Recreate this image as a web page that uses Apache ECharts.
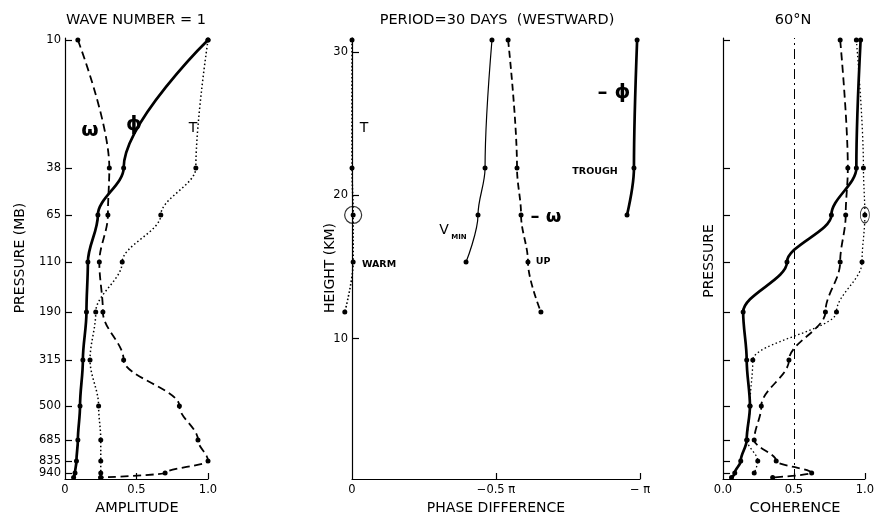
<!DOCTYPE html>
<html>
<head>
<meta charset="utf-8">
<script src="https://cdn.jsdelivr.net/npm/echarts@6/dist/echarts.min.js"></script>
<style>
html,body{margin:0;padding:0;background:#fff;}
#chart{width:877px;height:520px;}
</style>
</head>
<body>
<div id="chart"></div>
<script>
// ---------- DATA ----------
// Pressure levels (mb) and their heights (km)
const pressureLevels = [10, 38, 65, 110, 190, 315, 500, 685, 835, 940, 1000];
const levelHeightKm  = [30.86, 21.92, 18.64, 15.35, 11.86, 8.51, 5.30, 2.92, 1.46, 0.62, 0.30];
const pressureTickLabels = ['10', '38', '65', '110', '190', '315', '500', '685', '835', '940'];
const heightTickValues = [10, 20, 30];

// Panel 1: amplitude (wave number 1)
const ampPhi   = [1.00, 0.41, 0.23, 0.16, 0.15, 0.125, 0.105, 0.09, 0.08, 0.07, 0.06];
const ampOmega = [0.09, 0.31, 0.30, 0.24, 0.265, 0.41, 0.80, 0.93, 1.00, 0.70, 0.25];
const ampT     = [1.00, 0.915, 0.67, 0.40, 0.215, 0.175, 0.235, 0.25, 0.25, 0.25, 0.25];
const amplitudeTickValues = [0, 0.5, 1];
const amplitudeTickLabels = ['0', '0.5', '1.0'];

// Panel 2: phase difference (units of pi), levels 10..190 mb
const phaseT     = [0.0, 0.0, -0.004, -0.004, 0.025];
const phaseVmin  = [-0.486, -0.462, -0.4375, -0.396];
const phaseOmega = [-0.542, -0.573, -0.587, -0.611, -0.656];
const phasePhi   = [-0.990, -0.979, -0.955];
const phaseTickValues = [0, -0.5, -1];
const phaseTickLabels = ['0', '\u22120.5 \u03c0', '\u2212 \u03c0'];

// Panel 3: coherence at 60N
const cohSolid  = [0.97, 0.94, 0.764, 0.451, 0.142, 0.167, 0.19, 0.167, 0.125, 0.083, 0.06];
const cohDashed = [0.826, 0.88, 0.865, 0.826, 0.722, 0.465, 0.27, 0.22, 0.375, 0.625, 0.35];
const cohDotted = [0.94, 0.99, 1.00, 0.98, 0.80, 0.21, 0.19, 0.17, 0.245, 0.22, null];
const coherenceRef = 0.5;
const coherenceTickValues = [0, 0.5, 1];
const coherenceTickLabels = ['0.0', '0.5', '1.0'];

// ---------- CHART ----------
const FONT = 'DejaVu Sans';
const pairs = (xs) => xs.map((x, i) => (x === null ? null : [x, levelHeightKm[i]])).filter(p => p);
const lookup = (vals, labels) => (v) => {
  for (let i = 0; i < vals.length; i++) if (Math.abs(vals[i] - v) < 1e-6) return labels[i];
  return '';
};

// phase panel: visible axes cover [-pi, 0]; an overlay grid with the same scale
// extends a little past 0 so the T curve can cross to positive phase unclipped
const PHASE_PX_PER_UNIT = 288;
const PHASE_OVERLAY_MAX = 0.04;
const grids = [
  {left: 65, width: 143, top: 38, bottom: 41},
  {left: 352, width: PHASE_PX_PER_UNIT, top: 38, bottom: 41},
  {left: 723, width: 144, top: 38, bottom: 41},
  {left: 352 - PHASE_PX_PER_UNIT * PHASE_OVERLAY_MAX, width: PHASE_PX_PER_UNIT * (1 + PHASE_OVERLAY_MAX), top: 38, bottom: 41}
];

const axisLine = {show: true, onZero: false, lineStyle: {color: '#000', width: 1.2}};

function yAxis(gi, tickVals, labelFn, showLabel) {
  return {
    type: 'value', gridIndex: gi, min: 0.2, max: 31,
    axisLine: axisLine, splitLine: {show: false}, z: 1,
    axisTick: {show: true, inside: true, length: 7, customValues: tickVals, lineStyle: {color: '#000', width: 1.2}},
    axisLabel: {show: showLabel, customValues: tickVals, formatter: labelFn, color: '#000',
                fontFamily: FONT, fontSize: 11.5, margin: 4}
  };
}
function xAxis(gi, min, max, inverse, tickVals, labelVals, labelFn) {
  return {
    type: 'value', gridIndex: gi, min: min, max: max, inverse: inverse,
    axisLine: axisLine, splitLine: {show: false}, z: 1,
    axisTick: {show: true, inside: true, length: 6, customValues: tickVals, lineStyle: {color: '#000', width: 1.2}},
    axisLabel: {show: true, customValues: labelVals, formatter: labelFn, color: '#000',
                fontFamily: FONT, fontSize: 11.5, margin: 5}
  };
}

const dot = {symbol: 'circle', symbolSize: 5, itemStyle: {color: '#000'}};
function line(xi, data, lw, dash, smooth) {
  return Object.assign({
    type: 'line', xAxisIndex: xi, yAxisIndex: xi, data: data,
    smooth: smooth === undefined ? 0.35 : smooth, smoothMonotone: 'y', clip: false,
    lineStyle: {color: '#000', width: lw, type: dash || 'solid'},
    animation: false, z: 5
  }, dot);
}

const pressureLabelFn = lookup(levelHeightKm, pressureTickLabels);
const phasePairs = (xs) => xs.map((x, i) => [x, levelHeightKm[i]]);

const textEl = (x, y, text, size, opts) => Object.assign({
  type: 'text', x: x, y: y, z: 100,
  style: Object.assign({text: text, font: (opts && opts.weight ? opts.weight + ' ' : '') + size + 'px ' + FONT,
    fill: '#000', textAlign: 'center', textVerticalAlign: 'middle', align: 'center', verticalAlign: 'middle'})
}, opts && opts.rot ? {rotation: opts.rot} : {});

const option = {
  backgroundColor: '#fff',
  animation: false,
  grid: grids,
  xAxis: [
    xAxis(0, 0, 1, false, [0.5, 1], amplitudeTickValues, lookup(amplitudeTickValues, amplitudeTickLabels)),
    xAxis(1, -1, 0, true, [-0.5, -1], phaseTickValues, lookup(phaseTickValues, phaseTickLabels)),
    xAxis(2, 0, 1, false, [0.5, 1], coherenceTickValues, lookup(coherenceTickValues, coherenceTickLabels)),
    {type: 'value', gridIndex: 3, min: -1, max: PHASE_OVERLAY_MAX, inverse: true, show: false}
  ],
  yAxis: [
    yAxis(0, levelHeightKm.slice(0, 10), pressureLabelFn, true),
    yAxis(1, heightTickValues, (v) => String(v), true),
    yAxis(2, levelHeightKm.slice(0, 10), pressureLabelFn, false),
    {type: 'value', gridIndex: 3, min: 0.2, max: 31, show: false}
  ],
  series: [
    // Panel 1
    line(0, pairs(ampPhi), 2.7, 'solid'),
    line(0, pairs(ampOmega), 1.8, [8, 4.5]),
    line(0, pairs(ampT), 1.5, [1.5, 2.5]),
    // Panel 2
    line(3, phasePairs(phaseT), 1.6, [1.6, 2.1]),
    line(1, phasePairs(phaseVmin), 1.2, 'solid'),
    line(1, phasePairs(phaseOmega), 1.8, [7, 4]),
    line(1, phasePairs(phasePhi), 2.7, 'solid'),
    {type: 'scatter', xAxisIndex: 3, yAxisIndex: 3, data: [[phaseT[2], levelHeightKm[2]]],
     symbol: 'circle', symbolSize: 17, itemStyle: {color: 'rgba(0,0,0,0)', borderColor: '#000', borderWidth: 1.2}, z: 6},
    // Panel 3
    Object.assign(line(2, pairs(cohSolid), 2.7, 'solid'), {
      markLine: {silent: true, symbol: 'none', label: {show: false},
        lineStyle: {color: '#000', width: 1, type: [10, 4, 2, 4]}, data: [{xAxis: coherenceRef}]}
    }),
    line(2, pairs(cohDashed), 1.8, [8, 4.5]),
    line(2, pairs(cohDotted), 1.3, [1.5, 2.5]),
    {type: 'scatter', xAxisIndex: 2, yAxisIndex: 2, data: [[cohDotted[2], levelHeightKm[2]]],
     symbol: 'circle', symbolSize: [9, 16], itemStyle: {color: 'rgba(0,0,0,0)', borderColor: '#000', borderWidth: 1}, z: 6}
  ],
  graphic: [
    textEl(136, 20, 'WAVE NUMBER = 1', 14.5),
    textEl(497, 20, 'PERIOD=30 DAYS  (WESTWARD)', 14.5),
    textEl(793, 20, '60\u00b0N', 14.5),
    textEl(137, 508, 'AMPLITUDE', 14.5),
    textEl(496, 508, 'PHASE DIFFERENCE', 14),
    textEl(795, 508, 'COHERENCE', 14.5),
    textEl(20, 258, 'PRESSURE (MB)', 14, {rot: Math.PI / 2}),
    textEl(330, 268, 'HEIGHT (KM)', 14, {rot: Math.PI / 2}),
    textEl(709, 261, 'PRESSURE', 14, {rot: Math.PI / 2}),
    // panel 1 curve labels
    textEl(90, 131, '\u03c9', 20, {weight: 'bold'}),
    textEl(134, 125, '\u03d5', 20, {weight: 'bold'}),
    textEl(193, 128, 'T', 14),
    // panel 2 labels
    textEl(364, 128, 'T', 14),
    textEl(379, 265, 'WARM', 9.5, {weight: 'bold'}),
    textEl(444, 230, 'V', 14),
    textEl(459, 237, 'MIN', 7, {weight: 'bold'}),
    textEl(546, 217, '\u2013 \u03c9', 18, {weight: 'bold'}),
    textEl(543, 262, 'UP', 9.5, {weight: 'bold'}),
    textEl(595, 172, 'TROUGH', 9.5, {weight: 'bold'}),
    textEl(614, 93, '\u2013 \u03d5', 20, {weight: 'bold'})
  ]
};

const chart = echarts.init(document.getElementById('chart'), null, {renderer: 'canvas'});
chart.setOption(option);
</script>
</body>
</html>
